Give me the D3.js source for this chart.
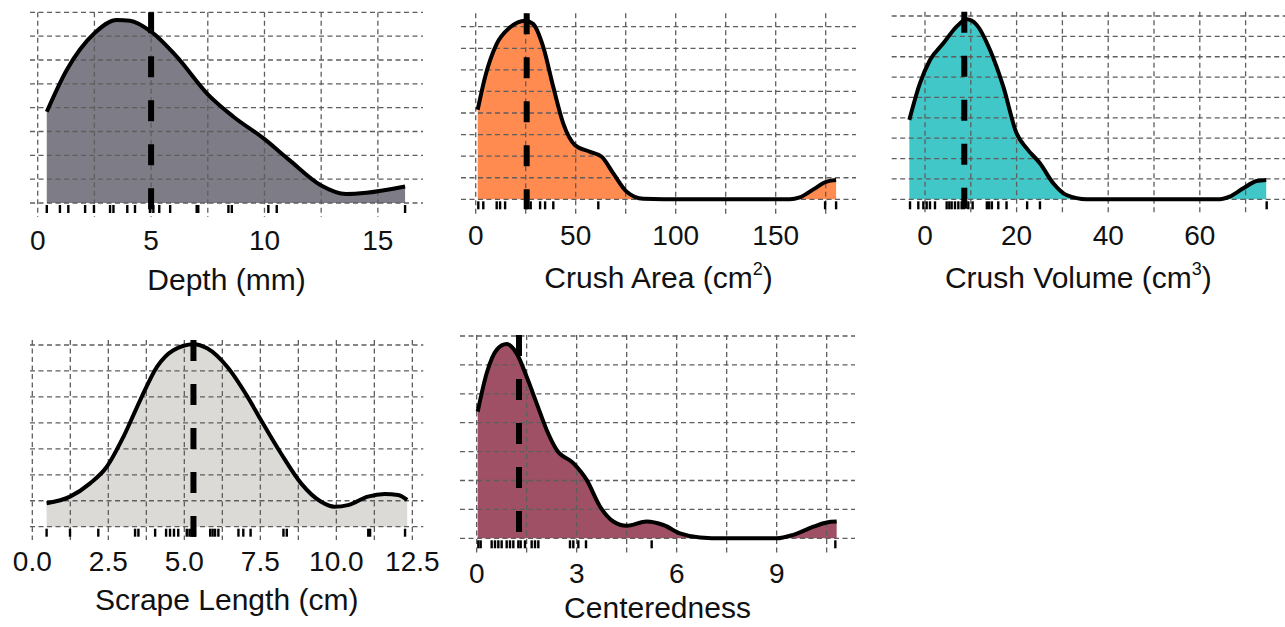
<!DOCTYPE html>
<html lang="en">
<head>
<meta charset="UTF-8">
<title>Density plots</title>
<script src="https://d3js.org/d3.v7.min.js"></script>
<style>
  body { margin: 0; background: #fff; }
  svg text { font-family: "Liberation Sans", Arial, sans-serif; fill: #111; }
  .grid line { stroke: #5e5e5e; stroke-width: 1.3; stroke-dasharray: 5,3.5; }
  .curve { fill: none; stroke: #000; stroke-width: 4; stroke-linejoin: round; }
  .rug line { stroke: #000; stroke-width: 2.4; }
  .median { stroke: #000; stroke-width: 6; stroke-dasharray: 21,23; }
</style>
</head>
<body>
<svg id="chart" width="1285" height="627"></svg>
<script>
// ---- data (density in grid units) ----
const depthX = [0.40, 1.28, 2.5, 3.49, 4.07, 5.0, 6.13, 7.5, 8.63, 9.96, 11.1, 12.46, 13.6, 14.5, 16.2];
const depthY = [3.83, 5.58, 7.12, 7.68, 7.65, 7.19, 6.14, 4.56, 3.62, 2.71, 1.80, 0.76, 0.38, 0.43, 0.69];
const depthRug = [0.40, 0.98, 1.35, 2.09, 2.48, 3.19, 3.34, 3.95, 4.29, 4.95, 5.10, 5.36, 5.84, 7.01, 7.08, 8.41, 8.56, 10.17, 10.54, 16.2];
const depthMedian = 5.0;
const depthTicks = [0, 5, 10, 15];
const depthGrid = [0, 2.5, 5, 7.5, 10, 12.5, 15];

const areaX = [1.0, 4.67, 10.5, 17.2, 24.7, 28.8, 33.8, 38.8, 43.8, 49.7, 57.2, 63, 68.8, 75.5, 83.8, 93.8, 157, 162, 168.8, 175.5, 180.2];
const areaY = [4.15, 5.66, 7.2, 7.97, 8.28, 8.12, 7.05, 5.2, 3.51, 2.51, 2.2, 1.97, 1.2, 0.35, 0.02, 0, 0, 0.09, 0.46, 0.82, 0.89];
const areaRug = [1.3, 3.8, 10.5, 12.2, 14.7, 25.5, 27.5, 32.2, 34.7, 38.8, 61.3, 174.7, 180.2];
const areaMedian = 25.5;
const areaTicks = [0, 50, 100, 150];
const areaGrid = [0, 25, 50, 75, 100, 125, 150, 175];

const volX = [-3.42, -1.09, 1.09, 4.0, 6.9, 9.1, 11.3, 14.2, 17.1, 20, 22.2, 25.1, 28, 30.9, 35.3, 64.4, 66.5, 69.5, 72.4, 74.5];
const volY = [3.9, 5.7, 6.84, 7.66, 8.48, 8.84, 8.56, 7.33, 5.53, 3.24, 2.5, 1.77, 0.79, 0.21, 0, 0, 0.13, 0.54, 0.9, 0.95];
const volRug = [-3.27, -1.46, -0.36, 0.36, 1.09, 2.18, 4.73, 5.31, 5.82, 6.55, 7.28, 8.0, 8.5, 9.46, 10.4, 13.5, 14.0, 14.6, 16.0, 17.8, 22.3, 25.1, 74.6];
const volMedian = 8.58;
const volTicks = [0, 20, 40, 60];
const volGrid = [0, 10, 20, 30, 40, 50, 60, 70];

const scrapeX = [0.47, 1.24, 1.9, 2.45, 3.0, 3.55, 4.1, 4.64, 5.31, 5.75, 6.41, 7.08, 7.52, 8.18, 8.84, 9.5, 9.94, 10.38, 11.04, 11.59, 12.03, 12.33];
const scrapeY = [0.9, 1.16, 1.67, 2.31, 3.47, 4.88, 6.16, 6.8, 7.03, 6.87, 6.16, 5.0, 4.11, 2.82, 1.67, 0.96, 0.77, 0.83, 1.16, 1.26, 1.22, 1.03];
const scrapeRug = [0.47, 1.24, 2.17, 3.38, 3.49, 4.04, 4.40, 4.53, 4.66, 4.80, 5.08, 5.17, 5.24, 5.30, 5.35, 5.85, 5.93, 6.01, 6.12, 6.78, 6.94, 7.18, 8.26, 8.37, 11.05, 11.11, 12.26];
const scrapeMedian = 5.30;
const scrapeTicks = [0, 2.5, 5, 7.5, 10, 12.5];
const scrapeGrid = [0, 1.25, 2.5, 3.75, 5, 6.25, 7.5, 8.75, 10, 11.25, 12.5];

const centX = [0.03, 0.3, 0.6, 0.9, 1.2, 1.5, 1.8, 2.1, 2.4, 2.9, 3.3, 3.7, 4.1, 4.5, 5.1, 5.6, 6.1, 6.7, 7.4, 9.0, 9.5, 10.1, 10.5, 10.8];
const centY = [4.38, 5.71, 6.52, 6.72, 6.4, 5.59, 4.67, 3.75, 3.06, 2.6, 2.02, 1.1, 0.58, 0.43, 0.58, 0.46, 0.17, 0.03, 0, 0, 0.12, 0.4, 0.55, 0.58];
const centRug = [0.05, 0.12, 0.45, 0.55, 0.65, 0.75, 0.9, 1.0, 1.1, 1.25, 1.32, 1.45, 1.65, 1.75, 1.85, 2.8, 2.9, 3.05, 3.28, 5.25, 10.76];
const centMedian = 1.27;
const centTicks = [0, 3, 6, 9];
const centGrid = [0, 1.5, 3, 4.5, 6, 7.5, 9, 10.5];

// ---- panel layout ----
const panels = [
  { xs: depthX, ys: depthY, rug: depthRug, median: depthMedian, ticks: depthTicks, grid: depthGrid,
    fmt: d3.format("d"), fill: "#7e7c86", title: "Depth (mm)", sup: null,
    px: [30, 423], dom: [-0.34, 16.99], base: 203, yTop: 12.3, yMax: 8, top: 12.3, bottom: 217, tickY: 250, titleY: 290 },
  { xs: areaX, ys: areaY, rug: areaRug, median: areaMedian, ticks: areaTicks, grid: areaGrid,
    fmt: d3.format("d"), fill: "#ff8b51", title: "Crush Area (cm", sup: "2",
    px: [461, 856], dom: [-7.35, 190.15], base: 199.3, yTop: 26.7, yMax: 8, top: 13.3, bottom: 216.7, tickY: 245, titleY: 288 },
  { xs: volX, ys: volY, rug: volRug, median: volMedian, ticks: volTicks, grid: volGrid,
    fmt: d3.format("d"), fill: "#42c7c9", title: "Crush Volume (cm", sup: "3",
    px: [891.7, 1285], dom: [-7.27, 78.6], base: 199.3, yTop: 16, yMax: 9, top: 11.7, bottom: 213, tickY: 245, titleY: 288 },
  { xs: scrapeX, ys: scrapeY, rug: scrapeRug, median: scrapeMedian, ticks: scrapeTicks, grid: scrapeGrid,
    fmt: d3.format(".1f"), fill: "#dcdad6", title: "Scrape Length (cm)", sup: null,
    px: [30, 423.3], dom: [-0.076, 12.86], base: 526.7, yTop: 345, yMax: 7, top: 340, bottom: 540, tickY: 571, titleY: 610 },
  { xs: centX, ys: centY, rug: centRug, median: centMedian, ticks: centTicks, grid: centGrid,
    fmt: d3.format("d"), fill: "#9f5064", title: "Centeredness", sup: null,
    px: [460, 855], dom: [-0.5, 11.35], base: 538.3, yTop: 336, yMax: 7, top: 335, bottom: 553, tickY: 583, titleY: 618 }
];

const svg = d3.select("#chart");

panels.forEach(p => {
  const x = d3.scaleLinear().domain(p.dom).range(p.px);
  const y = d3.scaleLinear().domain([0, p.yMax]).range([p.base, p.yTop]);
  const pts = p.xs.map((v, i) => [v, p.ys[i]]);
  const g = svg.append("g");

  // filled density
  g.append("path")
    .datum(pts)
    .attr("fill", p.fill)
    .attr("d", d3.area().curve(d3.curveMonotoneX)
      .x(d => x(d[0])).y0(y(0)).y1(d => y(d[1])));

  // dashed grid over the fill
  const grid = g.append("g").attr("class", "grid");
  grid.selectAll(".h").data(d3.range(0, p.yMax + 1)).join("line")
    .attr("x1", p.px[0]).attr("x2", p.px[1])
    .attr("y1", d => y(d)).attr("y2", d => y(d));
  grid.selectAll(".v").data(p.grid).join("line")
    .attr("x1", d => x(d)).attr("x2", d => x(d))
    .attr("y1", p.top).attr("y2", p.bottom);

  // density outline
  g.append("path")
    .datum(pts)
    .attr("class", "curve")
    .attr("d", d3.line().curve(d3.curveMonotoneX).x(d => x(d[0])).y(d => y(d[1])));

  // rug
  g.append("g").attr("class", "rug").selectAll("line").data(p.rug).join("line")
    .attr("x1", d => x(d)).attr("x2", d => x(d))
    .attr("y1", p.base + 2).attr("y2", p.base + 10);

  // median
  g.append("line").attr("class", "median")
    .attr("x1", x(p.median)).attr("x2", x(p.median))
    .attr("y1", p.top).attr("y2", p.base + 10);

  // tick labels
  g.selectAll(".tick").data(p.ticks).join("text")
    .attr("x", d => x(d)).attr("y", p.tickY)
    .attr("text-anchor", "middle")
    .attr("font-size", 28)
    .text(d => p.fmt(d));

  // axis title
  const t = g.append("text")
    .attr("x", (p.px[0] + p.px[1]) / 2 + (p.px[1] > 1280 ? -10 : 0))
    .attr("y", p.titleY)
    .attr("text-anchor", "middle")
    .attr("font-size", 30);
  t.append("tspan").text(p.title);
  if (p.sup) {
    t.append("tspan").attr("font-size", 18).attr("dy", -13).text(p.sup);
    t.append("tspan").attr("dy", 13).text(")");
  }
});
</script>
</body>
</html>
